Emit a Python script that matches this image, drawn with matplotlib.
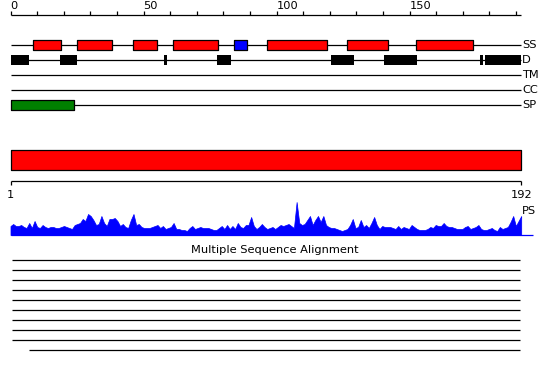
import matplotlib
matplotlib.use("Agg")
import matplotlib.pyplot as plt
import numpy as np

# ---------------- data ----------------
seq_len = 192
ruler_ticks = list(range(0, 191, 10))
ruler_labels = [0, 50, 100, 150]

# secondary structure: helices (red) and strands (blue)
ss_helix_start = [8.5, 25, 46, 61, 96.5, 126.5, 152.5]
ss_helix_end = [19, 38, 55, 78, 119, 142, 174]
ss_strand_start = [84]
ss_strand_end = [89]

# disorder
dis_start = [0, 18.5, 57.7, 77.7, 120.6, 140.5, 176.6, 178.5]
dis_end = [7, 25, 58.9, 83, 129, 153, 177.8, 192]

# signal peptide
sp_start = [0]
sp_end = [24]

track_names = ["SS", "D", "TM", "CC", "SP"]

# PS profile (per residue 1..192)
ps_values = [
    9, 11, 9, 9, 10, 8, 7, 12, 7, 14, 8, 7, 10, 8, 7, 8, 8, 7, 7, 8,
    9, 8, 7, 6, 10, 11, 12, 16, 14, 21, 19, 15, 10, 11, 19, 12, 9, 16, 16, 17,
    14, 9, 11, 8, 7, 15, 21, 10, 11, 8, 7, 7, 7, 8, 9, 10, 7, 9, 6, 7,
    8, 12, 6, 6, 5, 5, 4, 7, 9, 6, 7, 8, 7, 7, 7, 6, 5, 5, 7, 9,
    6, 10, 6, 9, 6, 12, 8, 7, 10, 10, 18, 9, 6, 8, 11, 8, 6, 7, 8, 6,
    8, 10, 9, 10, 11, 9, 7, 33, 12, 10, 11, 15, 19, 10, 15, 19, 13, 19, 10, 8,
    7, 7, 6, 5, 4, 5, 6, 10, 16, 7, 8, 15, 8, 10, 7, 12, 18, 10, 6, 9,
    8, 8, 8, 7, 6, 9, 6, 8, 7, 6, 10, 8, 6, 5, 5, 5, 6, 8, 7, 10,
    9, 9, 12, 9, 8, 8, 7, 6, 6, 6, 8, 9, 6, 7, 8, 10, 6, 5, 5, 6,
    7, 5, 4, 8, 6, 7, 8, 13, 19, 9, 14, 19,
]

# multiple sequence alignment coverage
msa_start = [0.5, 0.5, 0.5, 0.5, 0.5, 0.5, 0.5, 0.5, 0.5, 7]
msa_end = [191.5] * 10

# ---------------- drawing ----------------
W, H = 550, 380
px = 2.66  # pixels per residue
fig = plt.figure(figsize=(W / 100, H / 100), dpi=100)
ax = fig.add_axes([0, 0, 1, 1])
ax.set_xlim(-10.5 / px, (W - 10.5) / px)
ax.set_ylim(H, 0)
ax.axis("off")

fs = 8.2
lw = 0.9

# top ruler
ax.hlines(15, 0, seq_len, color="black", lw=lw)
for t in ruler_ticks:
    ax.vlines(t, 11, 15, color="black", lw=lw)
for t in ruler_labels:
    ax.text(t, 6, str(t), fontsize=fs, ha="left", va="center", color="black")

# tracks
track_y = [45, 60, 75, 90, 105]
for name, y in zip(track_names, track_y):
    ax.hlines(y, 0, seq_len, color="black", lw=lw, zorder=1)
    ax.text(seq_len + 0.3, y, name, fontsize=fs, ha="left", va="center")

bh = 10.5
ax.broken_barh([(s, e - s) for s, e in zip(ss_helix_start, ss_helix_end)],
               (45 - bh / 2, bh), facecolors="#ff0000", edgecolors="black", lw=lw, zorder=2)
ax.broken_barh([(s, e - s) for s, e in zip(ss_strand_start, ss_strand_end)],
               (45 - bh / 2, bh), facecolors="#0000ff", edgecolors="black", lw=lw, zorder=2)
ax.broken_barh([(s, e - s) for s, e in zip(dis_start, dis_end)],
               (60 - bh / 2, bh), facecolors="black", edgecolors="none", zorder=2)
ax.broken_barh([(s, e - s) for s, e in zip(sp_start, sp_end)],
               (105 - bh / 2, bh), facecolors="#008000", edgecolors="black", lw=lw, zorder=2)

# big domain bar
ax.broken_barh([(0, seq_len)], (150, 20), facecolors="#ff0000", edgecolors="black", lw=lw)

# bottom ruler
ax.hlines(181, 0, seq_len, color="black", lw=lw)
ax.vlines([0, seq_len], 181, 185, color="black", lw=lw)
ax.text(0, 195, "1", fontsize=fs, ha="center", va="center")
ax.text(seq_len, 195, str(seq_len), fontsize=fs, ha="center", va="center")
ax.text(seq_len + 0.3, 211, "PS", fontsize=fs, ha="left", va="center")

# PS profile
base = 235
xr = np.arange(len(ps_values)) * seq_len / (len(ps_values) - 1)
vals = np.array(ps_values, dtype=float)
ax.fill_between(xr, base, base - vals, color="#0000ff", lw=0.5, zorder=2)
ax.hlines(base, 0, 196.4, color="#0000ff", lw=lw)

# MSA
ax.text(0.5, 1 - 250 / H, "Multiple Sequence Alignment", fontsize=fs,
        ha="center", va="center", transform=ax.transAxes)
for i, (s, e) in enumerate(zip(msa_start, msa_end)):
    ax.hlines(260 + 10 * i, s, e, color="black", lw=lw)

fig.savefig("out.png", dpi=100)
